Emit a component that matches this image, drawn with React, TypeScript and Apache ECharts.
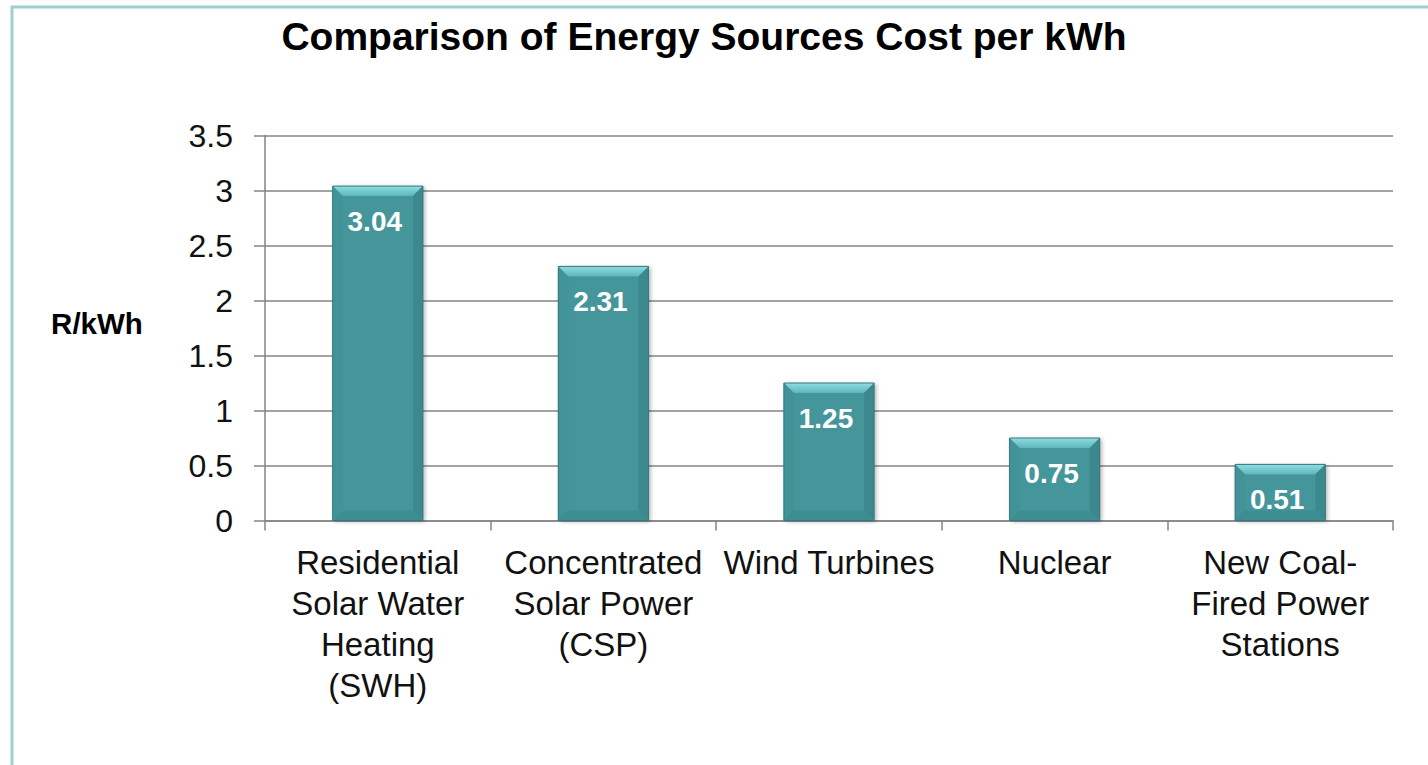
import React, { useEffect, useRef } from "react";
import * as echarts from "echarts";

const titleText = "Comparison of Energy Sources Cost per kWh";
const yAxisTitle = "R/kWh";
const categories = [
  "Residential\nSolar Water\nHeating\n(SWH)",
  "Concentrated\nSolar Power\n(CSP)",
  "Wind Turbines",
  "Nuclear",
  "New Coal-\nFired Power\nStations",
];
const costs = [3.04, 2.31, 1.25, 0.75, 0.51];
const yMin = 0;
const yMax = 3.5;
const yStep = 0.5;

const FONT = "'Liberation Sans', Arial, sans-serif";

export default function App() {
  const ref = useRef<HTMLDivElement>(null);
  useEffect(() => {
    if (!ref.current) return;
    const chart = echarts.init(ref.current, undefined, { renderer: "svg" });
    const BAR_FRAC = 0.4;
    const option: any = {
      animation: false,
      backgroundColor: "#ffffff",
      title: {
        text: titleText,
        left: 699,
        top: 31,
        textAlign: "center",
        textVerticalAlign: "middle",
        textStyle: {
          fontFamily: FONT,
          fontSize: 39,
          fontWeight: "bold",
          color: "#000000",
        },
      },
      graphic: [
        {
          type: "rect",
          z: -10,
          shape: { x: 12, y: 7, width: 1600, height: 900 },
          style: { fill: "none", stroke: "#9fcfd4", lineWidth: 3 },
        },
        {
          type: "text",
          x: 97,
          y: 323,
          style: {
            text: yAxisTitle,
            fontFamily: FONT,
            fontSize: 29.5,
            fontWeight: "bold",
            fill: "#000000",
            textAlign: "center",
            textVerticalAlign: "middle",
          },
        },
      ],
      grid: { left: 265, right: 35, top: 135.5, bottom: 244.5, containLabel: false },
      xAxis: {
        type: "category",
        data: categories,
        axisLine: { show: true, lineStyle: { color: "#858585", width: 1.5 } },
        axisTick: { show: true, length: 10, interval: 0, alignWithLabel: false, lineStyle: { color: "#858585", width: 1.5 } },
        axisLabel: {
          interval: 0,
          margin: 21,
          fontFamily: FONT,
          fontSize: 33,
          lineHeight: 41,
          color: "#111111",
          align: "center",
        },
        splitLine: { show: false },
      },
      yAxis: {
        type: "value",
        min: yMin,
        max: yMax,
        interval: yStep,
        axisLine: { show: true, lineStyle: { color: "#858585", width: 1.5 } },
        axisTick: { show: true, length: 11, lineStyle: { color: "#858585", width: 1.5 } },
        axisLabel: {
          margin: 32,
          fontFamily: FONT,
          fontSize: 32,
          color: "#111111",
        },
        splitLine: { show: true, lineStyle: { color: "#858585", width: 1.5 } },
      },
      series: [
        {
          type: "bar",
          data: costs,
          barWidth: "40%",
          itemStyle: {
            color: "#44969b",
            shadowColor: "rgba(0,0,0,0.3)",
            shadowBlur: 4,
            shadowOffsetX: 2,
            shadowOffsetY: 1,
          },
          label: {
            show: true,
            position: "insideTop",
            distance: 21,
            offset: [-3, 0],
            fontFamily: FONT,
            fontSize: 28,
            fontWeight: "bold",
            color: "#ffffff",
          },
          z: 2,
        },
        {
          type: "custom",
          z: 3,
          silent: true,
          data: costs.map((v, i) => [i, v]),
          renderItem: (params: any, api: any) => {
            const i = api.value(0);
            const v = api.value(1);
            const top = api.coord([i, v]);
            const bot = api.coord([i, 0]);
            const w = api.size([1, 0])[0] * BAR_FRAC;
            const x0 = top[0] - w / 2;
            const x1 = top[0] + w / 2;
            const y0 = top[1];
            const y1 = bot[1];
            const b = 10;
            return {
              type: "group",
              children: [
                {
                  type: "polygon",
                  shape: { points: [[x0, y0], [x1, y0], [x1 - b, y0 + b], [x0 + b, y0 + b]] },
                  style: {
                    fill: new echarts.graphic.LinearGradient(0, 0, 0, 1, [
                      { offset: 0, color: "#8fdde2" },
                      { offset: 1, color: "#5db6bb" },
                    ]),
                  },
                },
                {
                  type: "polygon",
                  shape: { points: [[x0, y0], [x0 + b, y0 + b], [x0 + b, y1 - b], [x0, y1]] },
                  style: { fill: "#419398" },
                },
                {
                  type: "polygon",
                  shape: { points: [[x1, y0], [x1 - b, y0 + b], [x1 - b, y1 - b], [x1, y1]] },
                  style: { fill: "#3b898e" },
                },
                {
                  type: "polygon",
                  shape: { points: [[x0, y1], [x0 + b, y1 - b], [x1 - b, y1 - b], [x1, y1]] },
                  style: { fill: "#3d8d92" },
                },
                {
                  type: "rect",
                  shape: { x: x0, y: y0, width: w, height: y1 - y0 },
                  style: { fill: "none", stroke: "#33797e", lineWidth: 1 },
                },
              ],
            };
          },
        },
      ],
    };
    chart.setOption(option);
    return () => chart.dispose();
  }, []);
  return (
    <div
      ref={ref}
      style={{ position: "fixed", left: 0, top: 0, width: 1428, height: 765, background: "#fff" }}
    />
  );
}
